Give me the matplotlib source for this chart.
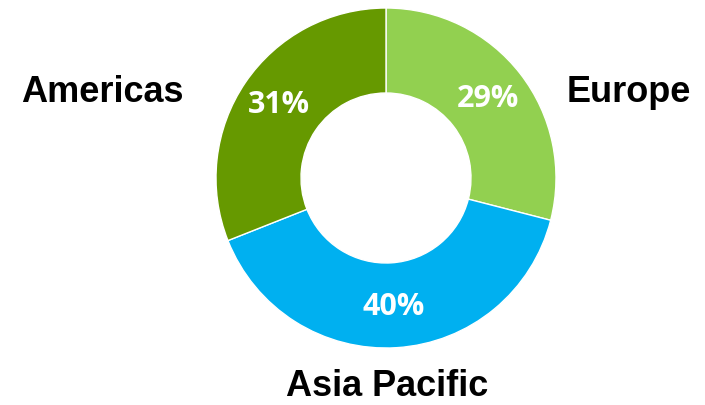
import matplotlib.pyplot as plt

# Regional revenue split
regions = ['Europe', 'Asia Pacific', 'Americas']
shares = [29, 40, 31]
colors = ['#92D050', '#00B0F0', '#669900']

fig = plt.figure(figsize=(7.05, 4.05), dpi=100)
W, H = 705, 405
cx, cy, r = 386, 178, 170
ax = fig.add_axes([(cx - r) / W, (H - cy - r) / H, 2 * r / W, 2 * r / H])

wedges, texts, autotexts = ax.pie(
    shares, colors=colors, startangle=90, counterclock=False, radius=1,
    autopct='%d%%', pctdistance=0.76,
    wedgeprops=dict(width=0.5, edgecolor='white', linewidth=1),
    textprops=dict(color='white', fontsize=22, fontweight='bold', family='Open Sans'))
ax.set_xlim(-1, 1)
ax.set_ylim(-1, 1)
ax.set_aspect('equal')
ax.axis('off')

# Region names around the ring
label_pos = {'Americas': (102, 93), 'Europe': (629, 93), 'Asia Pacific': (387, 386)}
for name, (px, py) in label_pos.items():
    fig.text(px / W, 1 - py / H, name, ha='center', va='center',
             fontsize=26, fontweight='bold', family='Liberation Sans')

fig.savefig('out.png', dpi=100)
